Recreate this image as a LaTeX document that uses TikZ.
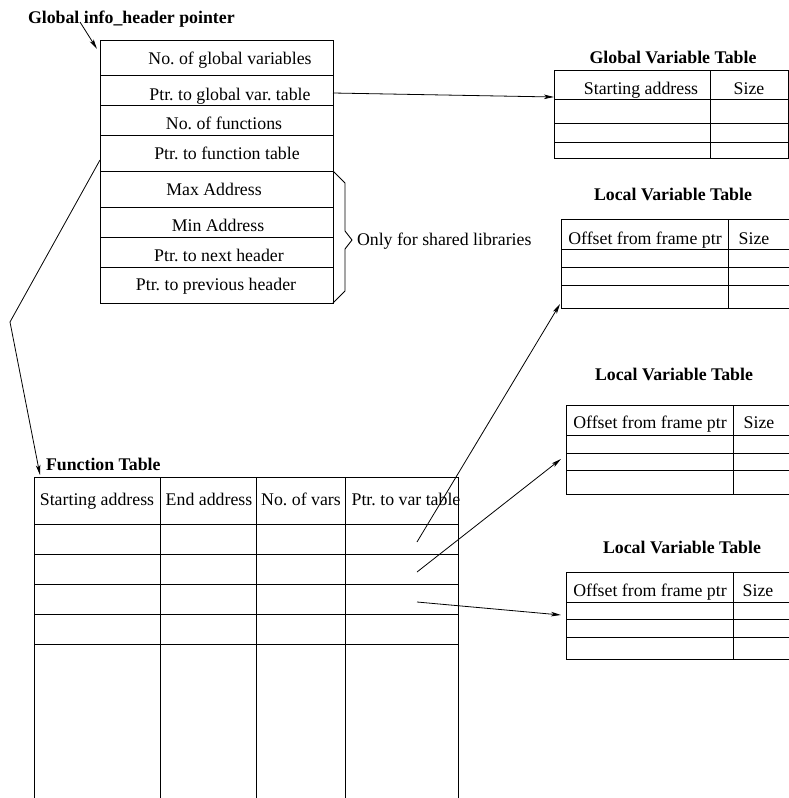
\documentclass[tikz,border=0pt]{standalone}
\usepackage{fontspec}
\setmainfont{Liberation Serif}
\usetikzlibrary{arrows.meta}
\frenchspacing
\begin{document}
\begin{tikzpicture}[x=1pt,y=-1pt,
  line width=0.9pt,
  txt/.style={inner sep=0pt,outer sep=0pt,anchor=base,font=\fontsize{17.8}{20}\selectfont\frenchspacing},
  ttl/.style={txt,font=\fontsize{17.8}{20}\selectfont\bfseries},
  box/.style={draw,inner sep=0pt,outer sep=0pt,anchor=north west},
  arr/.style={-{Stealth[length=10pt,width=4.5pt,inset=2.5pt]},line width=0.8pt}]
\useasboundingbox (0,0) rectangle (789,798);
\clip (0,0) rectangle (789,798);

% ---- global info header ----
\node[ttl,anchor=base west] (gtitle) at (28,23) {Global info\_header pointer};
\coordinate (gstart) at (80,22);
\node[box,minimum width=233pt,minimum height=263pt] (hdr) at (100,40) {};
\foreach \yy in {75,105,135,171,207,237,267} \draw (100,\yy) -- (333,\yy);
\node[txt] (h1) at (230,64) {No. of global variables};
\node[txt] (h2) at (230,100) {Ptr. to global var. table};
\node[txt] (h3) at (224,129) {No. of functions};
\node[txt] (h4) at (227,159) {Ptr. to function table};
\node[txt] (h5) at (214,195) {Max Address};
\node[txt] (h6) at (218,231) {Min Address};
\node[txt] (h7) at (219,261) {Ptr. to next header};
\node[txt] (h8) at (216,290) {Ptr. to previous header};
\draw[arr] (gstart) -- (97,49);

% brace
\draw (333,171) -- (345,183) -- (345,231) -- (352,240) -- (345,249) -- (345,291) -- (333,303);
\node[txt,anchor=base west] (shared) at (357,245) {Only for shared libraries};

% ---- global variable table ----
\node[ttl] (gvt) at (673,63) {Global Variable Table};
\node[box,minimum width=234pt,minimum height=88pt] (gtab) at (554,70) {};
\foreach \yy in {99,123,142} \draw (554,\yy) -- (788,\yy);
\draw (710,70) -- (710,158);
\node[txt] (gc1) at (641,94) {Starting address};
\node[txt] (gc2) at (749,94) {Size};
\coordinate (gpstart) at (333,93);
\coordinate (gpend) at (554,97);
\draw[arr] (gpstart) -- (gpend);

% ---- local variable tables ----
\node[ttl] (lt1) at (673,200) {Local Variable Table};
\draw (800,219) -- (561,219) -- (561,308) -- (800,308);
\foreach \yy in {249,267,285} \draw (561,\yy) -- (800,\yy);
\draw (728,219) -- (728,308);
\node[txt] (l1a) at (645,244) {Offset from frame ptr};
\node[txt] (l1b) at (754,244) {Size};
\coordinate (l1in) at (560,304);

\node[ttl] (lt2) at (674,380) {Local Variable Table};
\draw (800,405) -- (566,405) -- (566,494) -- (800,494);
\foreach \yy in {435,453,470} \draw (566,\yy) -- (800,\yy);
\draw (733,405) -- (733,494);
\node[txt] (l2a) at (650,428) {Offset from frame ptr};
\node[txt] (l2b) at (759,428) {Size};
\coordinate (l2in) at (561,459);

\node[ttl] (lt3) at (682,553) {Local Variable Table};
\draw (800,572) -- (566,572) -- (566,659) -- (800,659);
\foreach \yy in {602,619,637} \draw (566,\yy) -- (800,\yy);
\draw (733,572) -- (733,659);
\node[txt] (l3a) at (650,596) {Offset from frame ptr};
\node[txt] (l3b) at (758,596) {Size};
\coordinate (l3in) at (561,615);

% ---- function table ----
\node[ttl,anchor=base west] (ftitle) at (46,470) {Function Table};
\draw (34,800) -- (34,477) -- (458,477) -- (458,800);
\foreach \yy in {524,554,584,614,644} \draw (34,\yy) -- (458,\yy);
\foreach \xx in {160,256,345} \draw (\xx,477) -- (\xx,800);
\node[txt] (f1) at (97,505) {Starting address};
\node[txt] (f2) at (209,505) {End address};
\node[txt] (f3) at (301,505) {No. of vars};
\node[txt] (f4) at (406,505) {Ptr. to var table};

% pointer from header to function table
\coordinate (fpstart) at (100,160);
\coordinate (fpbend) at (10,322);
\coordinate (fpend) at (40,475);
\draw[arr] (fpstart) -- (fpbend) -- (fpend);

% pointers from function table to local tables
\coordinate (r1) at (417,542);
\coordinate (r2) at (417,572);
\coordinate (r3) at (417,602);
\draw[arr] (r1) -- (l1in);
\draw[arr] (r2) -- (l2in);
\draw[arr] (r3) -- (l3in);
\end{tikzpicture}
\end{document}
